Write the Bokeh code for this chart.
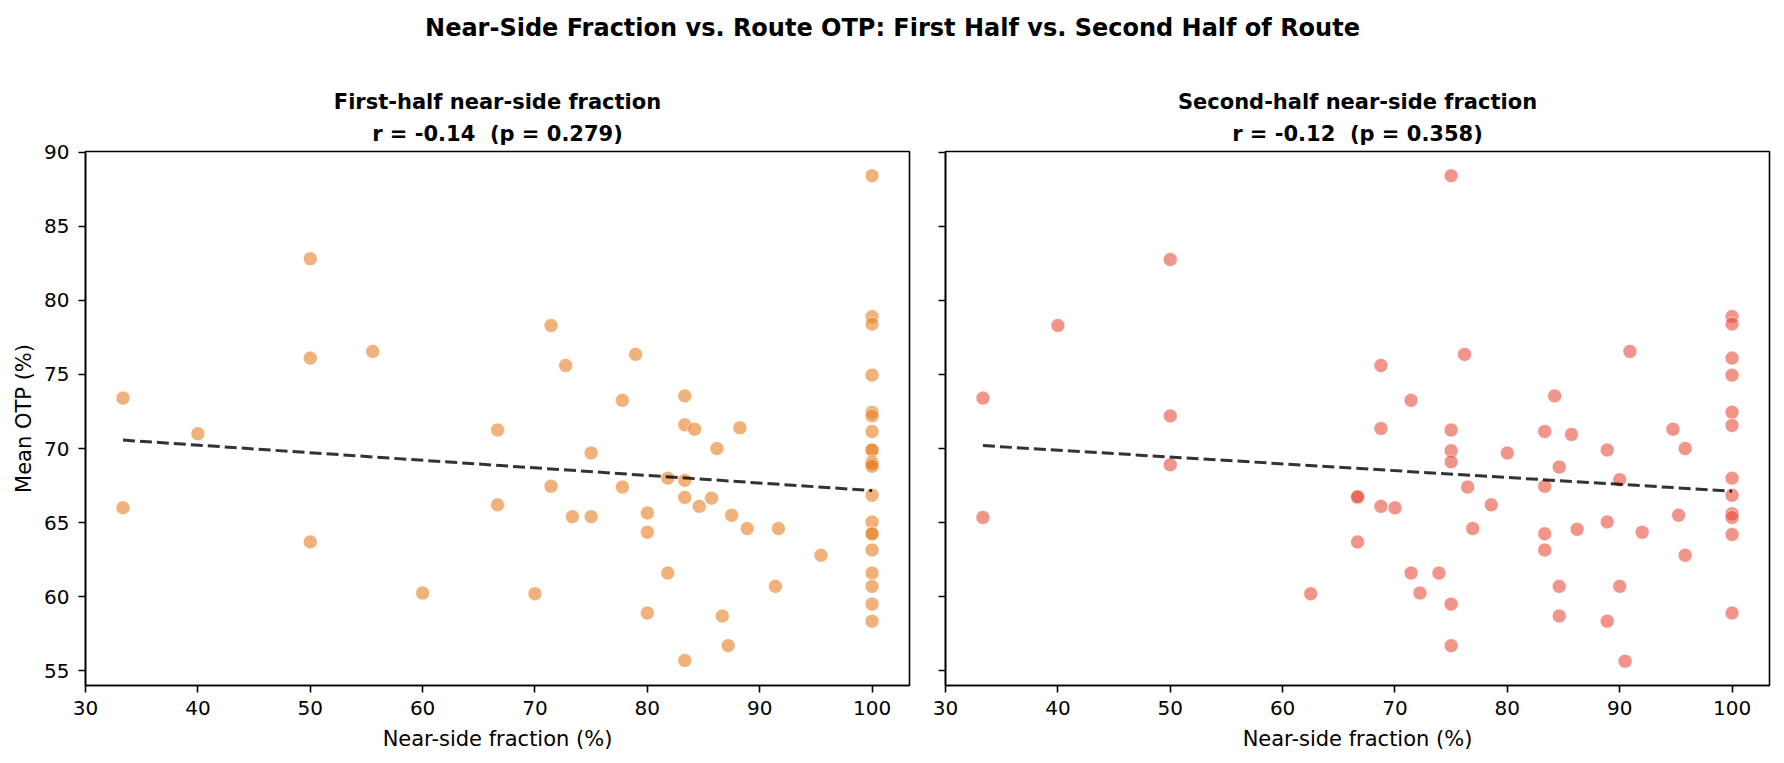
import numpy as np
from bokeh.plotting import figure
from bokeh.models import Range1d, FixedTicker, Title
from bokeh.layouts import column, row
from bokeh.embed import file_html
from bokeh.resources import INLINE

# ---------------- data ----------------
first_x = [50, 50, 55.56, 33.33, 40, 33.33, 50, 60, 71.43, 72.73, 78.95, 77.78,
           83.33, 66.67, 83.33, 84.21, 88.24, 86.2, 75, 71.43, 81.82, 83.33,
           77.78, 66.67, 83.33, 84.62, 85.71, 73.33, 75, 80, 80, 87.5, 88.89,
           91.67, 95.45, 81.82, 91.4, 70, 80, 86.67, 87.2, 83.33,
           100, 100, 100, 100, 100, 100, 100, 100, 100, 100, 100, 100, 100,
           100, 100, 100, 100, 100, 100, 100, 100]
first_y = [82.8, 76.1, 76.55, 73.4, 71.0, 66.0, 63.7, 60.25, 78.3, 75.6, 76.35,
           73.25, 73.55, 71.25, 71.6, 71.3, 71.4, 70.0, 69.7, 67.45, 68.0, 67.85,
           67.4, 66.2, 66.7, 66.1, 66.65, 65.4, 65.4, 65.65, 64.35, 65.5, 64.6,
           64.6, 62.8, 61.6, 60.7, 60.2, 58.9, 58.7, 56.7, 55.7,
           88.4, 78.9, 78.4, 74.95, 72.45, 72.2, 71.15, 69.9, 69.9, 69.1, 68.95,
           68.8, 66.85, 65.05, 64.25, 64.25, 63.15, 61.6, 60.7, 59.5, 58.35]

second_x = [50, 40, 33.33, 50, 50, 33.33, 62.5,
            75, 68.75, 76.19, 71.43, 84.21, 90.91,
            100, 100, 100, 100, 100,
            68.75, 75, 75, 75, 80, 83.33, 85.71, 88.89, 84.62, 90, 94.74, 95.83,
            66.67, 66.67, 68.75, 70, 76.47, 78.57, 83.33, 66.67, 76.92, 83.33,
            83.33, 86.21, 88.89, 92.0, 95.24, 95.83, 71.43, 73.91, 72.22, 75, 75,
            84.62, 84.62, 90, 88.89, 90.48,
            100, 100, 100, 100, 100, 100, 100]
second_y = [82.75, 78.3, 73.4, 72.2, 68.9, 65.35, 60.2,
            88.4, 75.6, 76.35, 73.25, 73.55, 76.55,
            78.9, 78.4, 76.1, 74.95, 72.45,
            71.35, 71.25, 69.85, 69.1, 69.7, 71.15, 70.95, 69.9, 68.75, 67.9, 71.3, 70.0,
            66.7, 66.75, 66.1, 66.0, 67.4, 66.2, 67.45, 63.7, 64.6, 64.25,
            63.15, 64.55, 65.05, 64.35, 65.5, 62.8, 61.6, 61.6, 60.25, 59.5, 56.7,
            60.7, 58.7, 60.7, 58.35, 55.65,
            71.55, 68.0, 66.85, 65.6, 65.35, 64.2, 58.9]

x_ticks = [30, 40, 50, 60, 70, 80, 90, 100]
y_ticks = [55, 60, 65, 70, 75, 80, 85, 90]

suptitle = "Near-Side Fraction vs. Route OTP: First Half vs. Second Half of Route"
panel_titles = ["First-half near-side fraction", "Second-half near-side fraction"]
panel_stats = ["r = -0.14  (p = 0.279)", "r = -0.12  (p = 0.358)"]
x_label = "Near-side fraction (%)"
y_label = "Mean OTP (%)"
colors = ["#E67E22", "#E74C3C"]

FONT = "DejaVu Sans"

all_x = first_x + second_x
all_y = first_y + second_y
xmin, xmax = min(all_x), max(all_x)
ymin, ymax = min(all_y), max(all_y)
xpad = 0.05 * (xmax - xmin)
ypad = 0.05 * (ymax - ymin)
x_range = Range1d(xmin - xpad, xmax + xpad)
y_range = Range1d(ymin - ypad, ymax + ypad)

FRAME_W, FRAME_H = 824, 534


def make_panel(xs, ys, color, title, stats, left, right, show_ylabels):
    p = figure(frame_width=FRAME_W, frame_height=FRAME_H,
               x_range=x_range, y_range=y_range,
               toolbar_location=None, output_backend="svg",
               min_border_left=left, min_border_right=right,
               min_border_top=91, min_border_bottom=78)
    p.background_fill_color = "white"
    p.border_fill_color = "white"
    p.outline_line_color = "black"
    p.outline_line_width = 1.6
    p.grid.visible = False

    # keep the double space visible in SVG
    stats_txt = stats.replace("  ", "\u00a0 ")
    t2 = Title(text=stats_txt, align="center", text_font=FONT, text_font_size="21px",
               text_font_style="bold", text_color="black", standoff=12,
               text_line_height=0.9)
    t1 = Title(text=title, align="center", text_font=FONT, text_font_size="21px",
               text_font_style="bold", text_color="black", standoff=0,
               text_line_height=1.25)
    p.add_layout(t2, "above")
    p.add_layout(t1, "above")

    for ax in (p.xaxis[0], p.yaxis[0]):
        ax.axis_line_color = "black"
        ax.axis_line_width = 1.6
        ax.major_tick_line_color = "black"
        ax.major_tick_line_width = 1.6
        ax.major_tick_out = 7
        ax.major_tick_in = 0
        ax.minor_tick_line_color = None
        ax.major_label_text_font = FONT
        ax.major_label_text_font_size = "20px"
        ax.major_label_text_color = "black"
        ax.axis_label_text_font = FONT
        ax.axis_label_text_font_size = "21px"
        ax.axis_label_text_font_style = "normal"
        ax.axis_label_text_color = "black"
    p.xaxis.ticker = FixedTicker(ticks=x_ticks)
    p.yaxis.ticker = FixedTicker(ticks=y_ticks)
    p.xaxis.axis_label = x_label
    p.xaxis.major_label_standoff = 8
    p.xaxis.axis_label_standoff = 9
    if show_ylabels:
        p.yaxis.axis_label = y_label
        p.yaxis.major_label_standoff = 9
        p.yaxis.axis_label_standoff = 5
    else:
        p.yaxis.major_label_overrides = {t: "" for t in y_ticks}
        p.yaxis.major_label_standoff = 0

    p.scatter(xs, ys, size=14, fill_color=color, fill_alpha=0.6,
              line_color="white", line_alpha=0.6, line_width=1)

    slope, intercept = np.polyfit(np.array(xs), np.array(ys), 1)
    lx = [min(xs), max(xs)]
    ly = [slope * v + intercept for v in lx]
    p.line(lx, ly, line_color="black", line_alpha=0.8, line_width=3,
           line_dash="12 5")
    return p


p1 = make_panel(first_x, first_y, colors[0], panel_titles[0], panel_stats[0],
                85, 18, True)
p2 = make_panel(second_x, second_y, colors[1], panel_titles[1], panel_stats[1],
                18, 15, False)

tf = figure(width=1784, height=60, toolbar_location=None, output_backend="svg",
            x_range=Range1d(0, 1), y_range=Range1d(0, 1), min_border=0,
            min_border_top=46)
tf.outline_line_color = None
tf.axis.visible = False
tf.grid.visible = False
tf.title.text = suptitle
tf.title.align = "center"
tf.title.text_font = FONT
tf.title.text_font_size = "24px"
tf.title.text_font_style = "bold"
tf.title.text_color = "black"
tf.title.standoff = 10

layout = column(tf, row(p1, p2))

with open("out.html", "w") as f:
    f.write(file_html(layout, INLINE))
